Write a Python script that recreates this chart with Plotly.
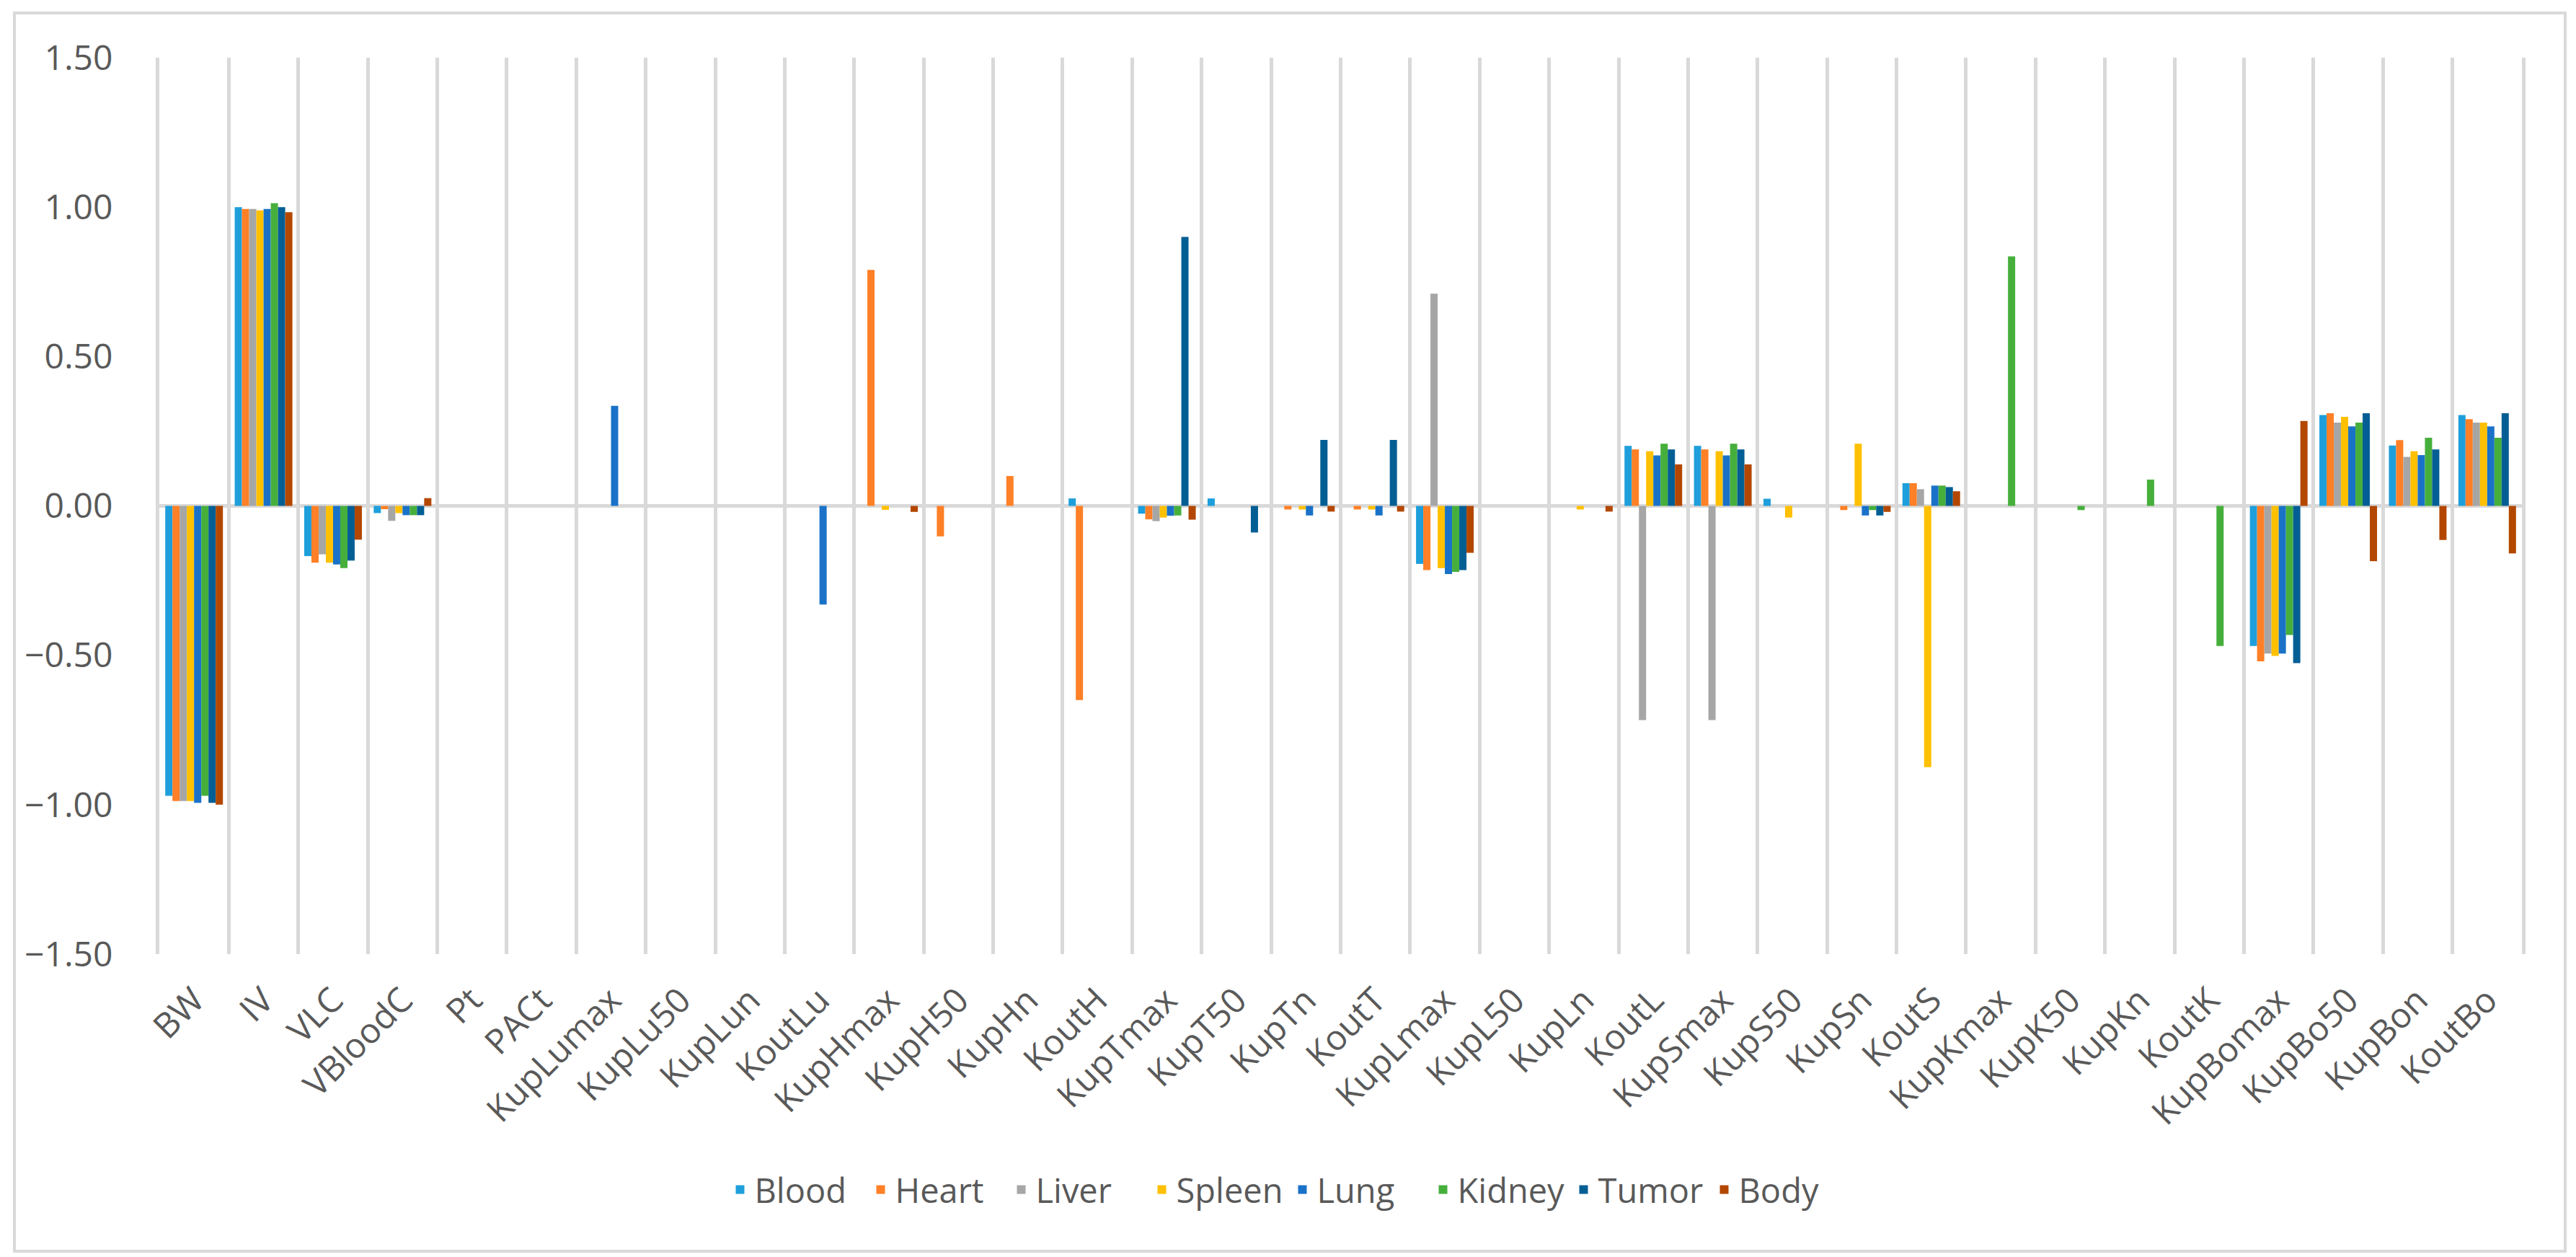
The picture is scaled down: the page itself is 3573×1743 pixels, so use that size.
import plotly.graph_objects as go

categories = ["BW", "IV", "VLC", "VBloodC", "Pt", "PACt", "KupLumax", "KupLu50", "KupLun", "KoutLu",
              "KupHmax", "KupH50", "KupHn", "KoutH", "KupTmax", "KupT50", "KupTn", "KoutT",
              "KupLmax", "KupL50", "KupLn", "KoutL", "KupSmax", "KupS50", "KupSn", "KoutS",
              "KupKmax", "KupK50", "KupKn", "KoutK", "KupBomax", "KupBo50", "KupBon", "KoutBo"]

blood = [-0.97, 1.00, -0.168, -0.024, 0, 0, 0, 0, 0, 0,
         0, 0, 0, 0.025, -0.026, 0.025, 0, 0,
         -0.194, 0, 0, 0.201, 0.201, 0.024, 0, 0.076,
         0, 0, 0, 0, -0.469, 0.304, 0.202, 0.304]
heart = [-0.988, 0.994, -0.19, -0.011, 0, 0, 0, 0, 0, 0,
         0.79, -0.102, 0.10, -0.65, -0.045, 0, -0.012, -0.012,
         -0.215, 0, 0, 0.189, 0.189, 0, -0.014, 0.076,
         0, 0, 0, 0, -0.52, 0.31, 0.22, 0.29]
liver = [-0.988, 0.994, -0.162, -0.05, 0, 0, 0, 0, 0, 0,
         0, 0, 0, 0, -0.051, 0, 0, 0,
         0.71, 0, 0, -0.717, -0.717, 0, 0, 0.056,
         0, 0, 0, 0, -0.494, 0.279, 0.164, 0.279]
spleen = [-0.988, 0.989, -0.19, -0.024, 0, 0, 0, 0, 0, 0,
          -0.013, 0, 0, 0, -0.039, 0, -0.012, -0.012,
          -0.208, 0, -0.012, 0.183, 0.183, -0.039, 0.208, -0.874,
          0, 0, 0, 0, -0.502, 0.298, 0.183, 0.279]
lung = [-0.994, 0.994, -0.196, -0.031, 0, 0, 0.335, 0, 0, -0.33,
        0, 0, 0, 0, -0.033, 0, -0.032, -0.032,
        -0.228, 0, 0, 0.169, 0.169, 0, -0.032, 0.068,
        0, 0, 0, 0, -0.494, 0.266, 0.17, 0.266]
kidney = [-0.97, 1.013, -0.208, -0.031, 0, 0, 0, 0, 0, 0,
          0, 0, 0, 0, -0.032, 0, 0, 0,
          -0.221, 0, 0, 0.208, 0.208, 0, -0.014, 0.068,
          0.835, -0.014, 0.088, -0.469, -0.432, 0.279, 0.228, 0.228]
tumor = [-0.994, 1.0, -0.183, -0.031, 0, 0, 0, 0, 0, 0,
         0, 0, 0, 0, 0.90, -0.089, 0.221, 0.221,
         -0.215, 0, 0, 0.189, 0.189, 0, -0.032, 0.063,
         0, 0, 0, 0, -0.526, 0.31, 0.189, 0.31]
body = [-1.0, 0.983, -0.113, 0.026, 0, 0, 0, 0, 0, 0,
        -0.02, 0, 0, 0, -0.046, 0, -0.019, -0.019,
        -0.157, 0, -0.019, 0.139, 0.139, 0, -0.02, 0.049,
        0, 0, 0, 0, 0.284, -0.185, -0.114, -0.159]

series_names = ["Blood", "Heart", "Liver", "Spleen", "Lung", "Kidney", "Tumor", "Body"]
series_values = [blood, heart, liver, spleen, lung, kidney, tumor, body]
series_colors = ["#1E9FDB", "#FF8026", "#A6A6A6", "#FFC000", "#1A72C8", "#46AF3C", "#035E94", "#B34700"]

for v in series_values:
    assert len(v) == len(categories)

W, H = 3573, 1743
ML, MR, MT, MB = 221, 75, 80, 420
FONT = "Open Sans"
TXT = "#595959"
GRID = "#D9D9D9"

fig = go.Figure()
for name, vals, col in zip(series_names, series_values, series_colors):
    fig.add_trace(go.Bar(name=name, x=categories, y=vals, marker=dict(color=col, line=dict(width=0))))

pw = W - ML - MR
ph = H - MT - MB

fig.update_layout(
    width=W, height=H,
    margin=dict(l=ML, r=MR, t=MT, b=MB, pad=0),
    paper_bgcolor="white", plot_bgcolor="white",
    barmode="group", bargap=0.17, bargroupgap=0,
    font=dict(family=FONT, size=48, color=TXT),
    legend=dict(orientation="h", x=(W / 2 - ML) / pw, xanchor="center",
                y=-(1650 - (H - MB)) / ph, yanchor="middle",
                font=dict(family=FONT, size=47, color=TXT), itemwidth=30,
                entrywidth=150, entrywidthmode="pixels",
                bgcolor="rgba(0,0,0,0)"),
    xaxis=dict(type="category", range=[-0.5, len(categories) - 0.5],
               showgrid=True, gridcolor=GRID, gridwidth=5, tickson="boundaries",
               ticks="", showline=False, zeroline=False,
               tickangle=-45, tickfont=dict(family=FONT, size=48, color=TXT),
               ticklabelstandoff=25),
    yaxis=dict(range=[-1.5, 1.5], dtick=0.5, tick0=-1.5, tickformat=".2f",
               showgrid=False, zeroline=True, zerolinecolor=GRID, zerolinewidth=5,
               showline=True, linecolor=GRID, linewidth=5, mirror=True,
               ticks="", tickfont=dict(family=FONT, size=48, color=TXT),
               ticklabelstandoff=50),
    shapes=[dict(type="rect", xref="paper", yref="paper",
                 x0=(20 - ML) / pw, x1=(3558 - ML) / pw,
                 y0=-(1735 - (H - MB)) / ph, y1=1 + (MT - 18) / ph,
                 line=dict(color=GRID, width=4), fillcolor="rgba(0,0,0,0)", layer="below")],
)

fig.write_html("out.html", config={"displayModeBar": False},
               post_script="document.body.style.margin='0';document.body.style.overflow='hidden';")
